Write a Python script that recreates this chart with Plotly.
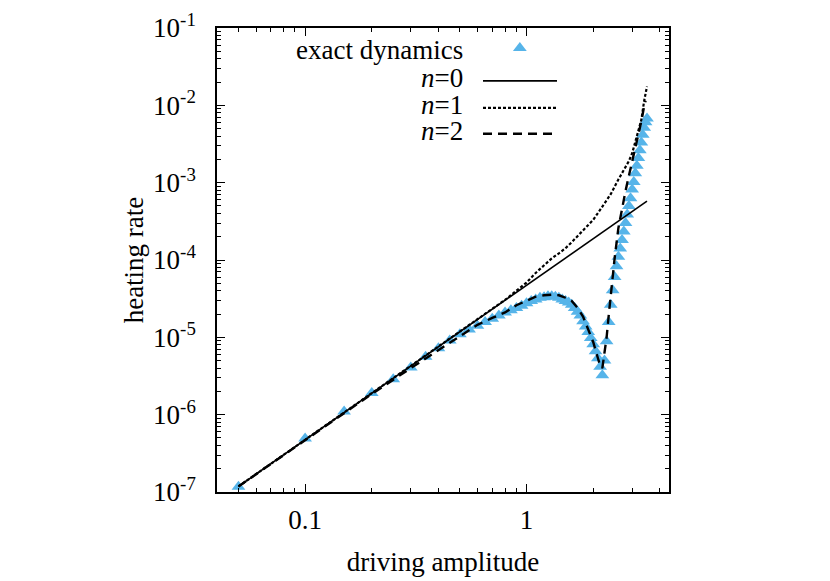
import plotly.graph_objects as go

# ---------------- data ----------------
exact_x = [0.05, 0.10, 0.15, 0.20, 0.25, 0.30, 0.35, 0.40, 0.45, 0.50,
           0.55, 0.60, 0.65, 0.70, 0.75, 0.80, 0.85, 0.90, 0.95, 1.00,
           1.05, 1.10, 1.15, 1.20, 1.25, 1.30, 1.35, 1.40, 1.45, 1.50,
           1.55, 1.60, 1.65, 1.70, 1.75, 1.80, 1.85, 1.90, 1.95, 2.00,
           2.05, 2.10, 2.15, 2.20, 2.25, 2.30, 2.35, 2.40, 2.45, 2.50,
           2.55, 2.60, 2.65, 2.70, 2.75, 2.80, 2.85, 2.90, 2.95, 3.00,
           3.05, 3.10, 3.15, 3.20, 3.25, 3.30, 3.35, 3.40, 3.45, 3.50]
exact_y = [1.17e-7, 4.90e-7, 1.10e-6, 1.91e-6, 2.88e-6, 4.07e-6, 5.62e-6, 7.24e-6, 9.12e-6, 1.10e-5,
           1.26e-5, 1.41e-5, 1.58e-5, 1.74e-5, 1.91e-5, 2.09e-5, 2.24e-5, 2.40e-5, 2.57e-5, 2.75e-5,
           2.95e-5, 3.09e-5, 3.24e-5, 3.31e-5, 3.39e-5, 3.39e-5, 3.35e-5, 3.24e-5, 3.09e-5, 2.95e-5,
           2.82e-5, 2.63e-5, 2.40e-5, 2.14e-5, 1.91e-5, 1.62e-5, 1.38e-5, 1.17e-5, 9.77e-6, 8.13e-6,
           6.61e-6, 5.37e-6, 4.17e-6, 3.24e-6, 5.01e-6, 8.91e-6, 1.58e-5, 2.63e-5, 4.07e-5, 6.03e-5,
           8.32e-5, 1.10e-4, 1.41e-4, 1.82e-4, 2.34e-4, 3.02e-4, 3.89e-4, 5.01e-4, 6.31e-4, 8.13e-4,
           1.02e-3, 1.32e-3, 1.66e-3, 2.09e-3, 2.63e-3, 3.31e-3, 4.17e-3, 5.13e-3, 6.03e-3, 6.76e-3]

n0_x = [0.05, 0.1, 0.2, 0.5, 1.0, 2.0, 3.5]
n0_y = [1.18e-7, 4.7e-7, 1.88e-6, 1.18e-5, 4.7e-5, 1.88e-4, 5.76e-4]

n1_x = [0.05, 0.1, 0.2, 0.3, 0.4, 0.5, 0.6, 0.7, 0.8, 0.9, 1.0, 1.1, 1.2, 1.3, 1.4,
        1.5, 1.6, 1.7, 1.8, 1.9, 2.0, 2.2, 2.4, 2.6, 2.8, 2.9, 3.0, 3.1, 3.2, 3.3, 3.4, 3.5]
n1_y = [1.18e-7, 4.7e-7, 1.9e-6, 4.25e-6, 7.5e-6, 1.18e-5, 1.70e-5, 2.32e-5, 3.05e-5, 4.0e-5,
        5.1e-5, 6.8e-5, 8.6e-5, 1.05e-4, 1.22e-4, 1.42e-4, 1.70e-4, 2.05e-4, 2.45e-4, 2.85e-4,
        3.3e-4, 4.9e-4, 7.1e-4, 1.1e-3, 1.6e-3, 1.9e-3, 2.4e-3, 3.3e-3, 4.5e-3, 6.5e-3,
        1.15e-2, 1.75e-2]

n2_x = [0.05, 0.1, 0.2, 0.3, 0.4, 0.5, 0.6, 0.7, 0.8, 0.9, 1.0, 1.1, 1.2, 1.3, 1.4,
        1.5, 1.6, 1.7, 1.8, 1.9, 2.0, 2.1, 2.15, 2.2, 2.25, 2.3, 2.35, 2.4, 2.5, 2.6,
        2.7, 2.8, 2.9, 3.0, 3.1, 3.2, 3.3, 3.4, 3.45]
n2_y = [1.18e-7, 4.7e-7, 1.85e-6, 4.0e-6, 6.9e-6, 1.05e-5, 1.45e-5, 1.78e-5, 2.1e-5, 2.6e-5,
        3.0e-5, 3.35e-5, 3.5e-5, 3.55e-5, 3.5e-5, 3.25e-5, 2.95e-5, 2.4e-5, 1.86e-5, 1.26e-5,
        8.7e-6, 5.4e-6, 4.3e-6, 4.0e-6, 6.5e-6, 1.0e-5, 1.9e-5, 3.7e-5, 1.05e-4, 2.6e-4,
        4.7e-4, 7.8e-4, 1.23e-3, 1.9e-3, 2.7e-3, 4.0e-3, 6.2e-3, 9.8e-3, 1.15e-2]

legend_labels = ["exact dynamics", "<i>n</i>=0", "<i>n</i>=1", "<i>n</i>=2"]

x_tickvals = [0.1, 1]
x_ticktext = ["0.1", "1"]
y_tickvals = [1e-7, 1e-6, 1e-5, 1e-4, 1e-3, 1e-2, 1e-1]
y_ticktext = ["10<sup>-7</sup>", "10<sup>-6</sup>", "10<sup>-5</sup>", "10<sup>-4</sup>",
              "10<sup>-3</sup>", "10<sup>-2</sup>", "10<sup>-1</sup>"]

# ---------------- styles ----------------
FONT = "Liberation Serif, Times New Roman, serif"
BLUE = "#56B4E9"
FS = 27

x_minor = [m * 10 ** e for e in (-2, -1, 0) for m in range(2, 10)]
x_minor = [v for v in x_minor if 0.04 <= v <= 4.4]
y_minor = [m * 10 ** e for e in range(-7, -1) for m in range(2, 10)]

fig = go.Figure()

fig.add_trace(go.Scatter(x=exact_x, y=exact_y, mode="markers",
                         marker=dict(symbol="triangle-up", size=12, color=BLUE, line=dict(width=0)),
                         showlegend=False))
fig.add_trace(go.Scatter(x=n0_x, y=n0_y, mode="lines",
                         line=dict(color="black", width=1.6), showlegend=False))
fig.add_trace(go.Scatter(x=n1_x, y=n1_y, mode="lines",
                         line=dict(color="black", width=2.2, dash="3px,2px"), showlegend=False))
fig.add_trace(go.Scatter(x=n2_x, y=n2_y, mode="lines",
                         line=dict(color="black", width=2.4, dash="9px,6px"), showlegend=False))

# legend sample for triangle on an overlay axis in [0,1]
fig.add_trace(go.Scatter(x=[0.670], y=[0.957], mode="markers", xaxis="x2", yaxis="y2",
                         marker=dict(symbol="triangle-up", size=12, color=BLUE, line=dict(width=0)),
                         showlegend=False, hoverinfo="skip"))

axis_common = dict(type="log", showgrid=False, zeroline=False, showline=True,
                   linecolor="black", linewidth=1.5, mirror="ticks", ticks="inside",
                   ticklen=8, tickwidth=1, tickcolor="black", automargin=False,
                   tickfont=dict(family=FONT, size=FS, color="black"))

# page body has an 8px margin, so margins are compensated by 8px
fig.update_layout(
    width=830, height=581,
    margin=dict(l=209, r=169, t=20, b=97),
    paper_bgcolor="white", plot_bgcolor="white",
    font=dict(family=FONT, size=FS, color="black"),
    xaxis=dict(**axis_common, range=[-1.398, 0.6435],
               tickmode="array", tickvals=x_tickvals, ticktext=x_ticktext,
               minor=dict(tickmode="array", tickvals=x_minor, ticks="inside", ticklen=4,
                          tickcolor="black", showgrid=False),
               ticklabelstandoff=3,
               title=dict(text="driving amplitude", font=dict(family=FONT, size=FS), standoff=18)),
    yaxis=dict(**axis_common, range=[-7, -1],
               tickmode="array", tickvals=y_tickvals, ticktext=y_ticktext,
               minor=dict(tickmode="array", tickvals=y_minor, ticks="inside", ticklen=4,
                          tickcolor="black", showgrid=False),
               ticklabelstandoff=14,
               title=dict(text="heating rate", font=dict(family=FONT, size=FS), standoff=2)),
    xaxis2=dict(overlaying="x", range=[0, 1], visible=False, fixedrange=True),
    yaxis2=dict(overlaying="y", range=[0, 1], visible=False, fixedrange=True),
    showlegend=False,
)

# legend texts (gnuplot-style key: text right-aligned, sample to the right)
leg_y = [0.953, 0.892, 0.834, 0.778]
for lab, yy in zip(legend_labels, leg_y):
    fig.add_annotation(x=0.5487, y=yy, xref="paper", yref="paper", text=lab,
                       showarrow=False, xanchor="right", yanchor="middle",
                       font=dict(family=FONT, size=FS, color="black"))

line_styles = [dict(color="black", width=1.6),
               dict(color="black", width=2.2, dash="3px,2px"),
               dict(color="black", width=2.4, dash="9px,6px")]
for yy, st in zip(leg_y[1:], line_styles):
    fig.add_shape(type="line", xref="paper", yref="paper", x0=0.5885, x1=0.7522,
                  y0=yy - 0.006, y1=yy - 0.006, line=st)

fig.write_html("out.html")
